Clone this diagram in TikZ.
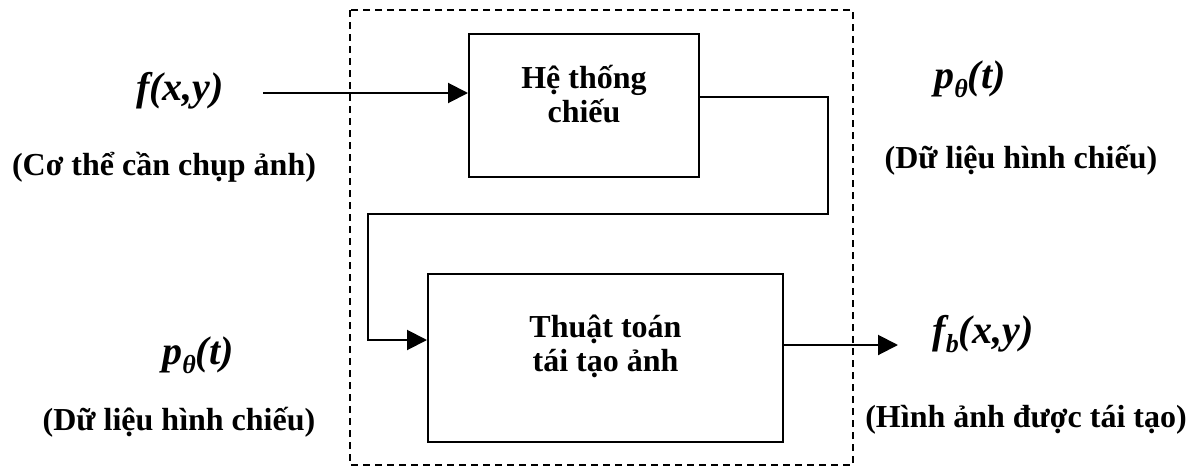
\documentclass[tikz,border=0pt]{standalone}
\usepackage{fontspec}
\setmainfont{Liberation Serif}
\usetikzlibrary{arrows.meta}
\tikzset{
  box/.style={draw, line width=1pt, inner sep=0pt},
  lbl/.style={font=\fontsize{16}{17}\selectfont\bfseries, align=center, inner sep=0pt},
  sym/.style={font=\fontsize{20}{24}\selectfont\bfseries\itshape, inner sep=0pt},
  flow/.style={line width=1pt, -{Triangle[length=10pt,width=10pt]}},
  frame/.style={line width=0.7pt, dash pattern=on 3.5pt off 2.5pt},
}
% lowered, smaller index for p_theta and f_b
\newcommand{\lowidx}[1]{\raisebox{-0.22em}{\fontsize{13}{14}\selectfont #1}}
\begin{document}
\begin{tikzpicture}[x=0.5pt,y=-0.5pt]
\useasboundingbox (0,0) rectangle (1199,466);

% system boundary
\draw[frame] (350,10) rectangle (853,465);

% processing blocks
\node[box, minimum width=115pt, minimum height=71.5pt] (proj) at (584,105.5) {};
\node[lbl] (projtxt) at (584,94) {Hệ thống\\chiếu};
\node[box, minimum width=177.5pt, minimum height=84pt] (recon) at (605.5,358) {};
\node[lbl] (recontxt) at (605.5,346) {Thuật toán\\tái tạo ảnh};

% signals and captions
\node[sym] (fxy) at (180,91) {f(x,y)};
\node[lbl] (body) at (164,167) {(Cơ thể cần chụp ảnh)};
\node[sym] (p1) at (970,79) {p\lowidx{θ}(t)};
\node[lbl] (data1) at (1021,160) {(Dữ liệu hình chiếu)};
\node[sym] (p2) at (198,355) {p\lowidx{θ}(t)};
\node[lbl] (data2) at (179,422) {(Dữ liệu hình chiếu)};
\node[sym] (fb) at (983,334) {f\lowidx{b}(x,y)};
\node[lbl] (img) at (1026,420) {(Hình ảnh được tái tạo)};

% connector waypoints
\coordinate (inA) at (263,93);
\coordinate (bend1) at (828,97);
\coordinate (bend2) at (368,214);
\coordinate (recIn) at (368,340);
\coordinate (outEnd) at (898,345);

% connectors
\draw[flow] (inA) -- (proj.west |- inA);
\draw[flow] (proj.east |- bend1) -- (bend1) |- (bend2) |- (recon.west |- recIn);
\draw[flow] (recon.east |- outEnd) -- (outEnd);
\end{tikzpicture}
\end{document}
